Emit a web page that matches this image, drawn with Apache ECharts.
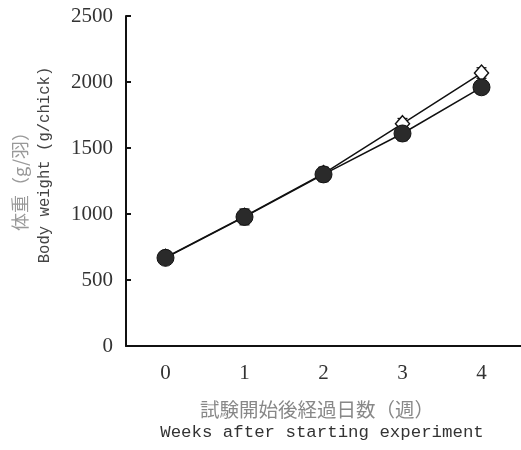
<!DOCTYPE html>
<html><head><meta charset="utf-8">
<script src="https://cdn.jsdelivr.net/npm/echarts@6/dist/echarts.min.js"></script>
<style>html,body{margin:0;padding:0;background:#fff}#c{width:521px;height:450px}</style>
</head><body><div id="c"></div>
<script>
var weeks = ['0', '1', '2', '3', '4'];
var circleSeries = [668, 978, 1300, 1610, 1960];
var diamondSeries = [672, 982, 1306, 1684, 2068];
var circleErr = [20, 60, 55, 55, 50];
var diamondErr = [20, 45, 45, 40, 40];
var yTicks = [0, 500, 1000, 1500, 2000, 2500];

function errData(vals, errs) {
  return vals.map(function (v, i) { return [i, v - errs[i], v + errs[i]]; });
}
function errRender(params, api) {
  var x = api.value(0);
  var lo = api.coord([x, api.value(1)]);
  var hi = api.coord([x, api.value(2)]);
  var w = 5;
  var st = { stroke: '#111', lineWidth: 1.2 };
  return { type: 'group', children: [
    { type: 'line', shape: { x1: lo[0], y1: lo[1], x2: hi[0], y2: hi[1] }, style: st },
    { type: 'line', shape: { x1: lo[0] - w, y1: lo[1], x2: lo[0] + w, y2: lo[1] }, style: st },
    { type: 'line', shape: { x1: hi[0] - w, y1: hi[1], x2: hi[0] + w, y2: hi[1] }, style: st }
  ]};
}

var chart = echarts.init(document.getElementById('c'));
var serif = '"Liberation Serif","DejaVu Serif",serif';
var mono = '"Liberation Mono","DejaVu Sans Mono",monospace';
chart.setOption({
  animation: false,
  grid: { left: 126, right: 0, top: 16, bottom: 104 },
  xAxis: {
    type: 'category', data: weeks, boundaryGap: true,
    axisLine: { lineStyle: { color: '#111', width: 2 } },
    axisTick: { inside: true, length: 5, alignWithLabel: true, lineStyle: { color: '#111', width: 2 } },
    axisLabel: { color: '#333', fontFamily: serif, fontSize: 21, margin: 17 }
  },
  yAxis: {
    type: 'value', min: yTicks[0], max: yTicks[yTicks.length - 1], interval: 500,
    axisLine: { show: true, lineStyle: { color: '#111', width: 2 } },
    axisTick: { show: true, inside: true, length: 5, lineStyle: { color: '#111', width: 2 } },
    splitLine: { show: false },
    axisLabel: { color: '#333', fontFamily: serif, fontSize: 21, margin: 13, formatter: function (v) { return String(v); } }
  },
  graphic: [
    { type: 'text', x: 20, y: 177, rotation: Math.PI / 2, style: { text: '体重（g/羽）', fill: '#999', font: '18px "Noto Sans CJK JP"', align: 'center', verticalAlign: 'middle' } },
    { type: 'text', x: 45, y: 165, rotation: Math.PI / 2, style: { text: 'Body weight (g/chick)', fill: '#444', font: '15.6px ' + mono, align: 'center', verticalAlign: 'middle' } },
    { type: 'text', x: 317, y: 410, style: { text: '試験開始後経過日数（週）', fill: '#888', font: '19.5px "Noto Sans CJK JP"', align: 'center', verticalAlign: 'middle' } },
    { type: 'text', x: 322, y: 432, style: { text: 'Weeks after starting experiment', fill: '#333', font: '17.4px ' + mono, align: 'center', verticalAlign: 'middle' } }
  ],
  series: [
    { type: 'custom', renderItem: errRender, data: errData(diamondSeries, diamondErr), z: 1 },
    { type: 'custom', renderItem: errRender, data: errData(circleSeries, circleErr), z: 1 },
    { type: 'line', data: diamondSeries, symbol: 'diamond', symbolSize: [14, 16], z: 2,
      lineStyle: { color: '#111', width: 1.5 },
      itemStyle: { color: '#fff', borderColor: '#111', borderWidth: 1.5 } },
    { type: 'line', data: circleSeries, symbol: 'circle', symbolSize: 17, z: 3,
      lineStyle: { color: '#111', width: 1.5 },
      itemStyle: { color: '#2a2a2a', borderColor: '#111', borderWidth: 1 } }
  ]
});
</script>
</body></html>
